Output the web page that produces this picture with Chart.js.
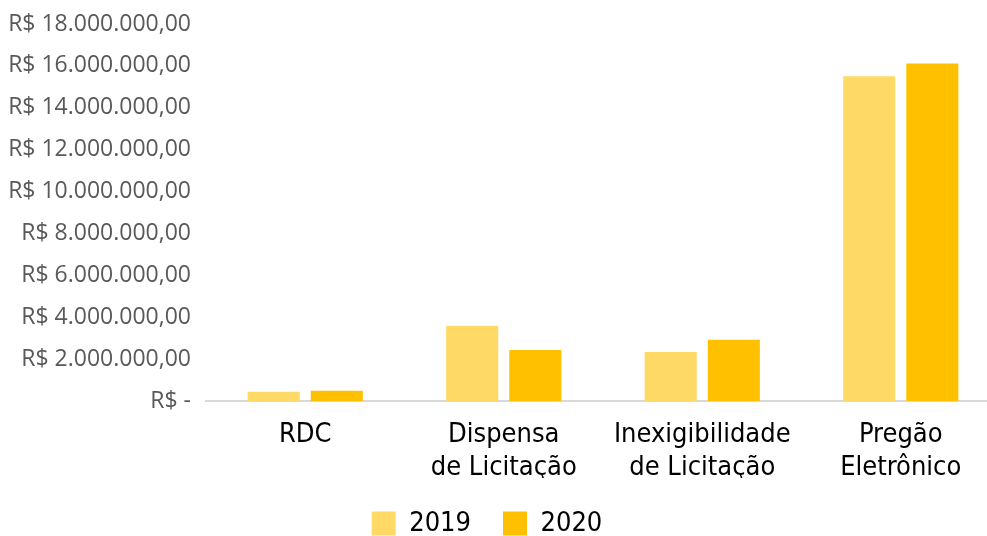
<!DOCTYPE html>
<html lang="pt-BR">
<head>
    <meta charset="UTF-8">
    <title>Contratações por modalidade</title>
    <script src="https://cdn.jsdelivr.net/npm/chart.js"></script>
    <style>
        html, body { margin: 0; padding: 0; overflow: hidden; background: #fff; }
        #wrap { width: 1026px; height: 547px; margin-left: -26px; }
    </style>
</head>
<body>

<div id="wrap"><canvas id="modalidadesChart"></canvas></div>

<script>
    const categorias = [['RDC'], ['Dispensa', 'de Licitação'], ['Inexigibilidade', 'de Licitação'], ['Pregão', 'Eletrônico']];
    const valores2019 = [445000, 3590000, 2340000, 15500000];
    const valores2020 = [490000, 2440000, 2920000, 16120000];

    function formatoReal(v) {
        if (v === 0) return 'R$ -';
        const inteiro = Math.round(v).toString().replace(/\B(?=(\d{3})+(?!\d))/g, '.');
        return 'R$ ' + inteiro + ',00';
    }

    const ctx = document.getElementById('modalidadesChart').getContext('2d');
    new Chart(ctx, {
        type: 'bar',
        data: {
            labels: categorias,
            datasets: [
                {
                    label: '2019',
                    data: valores2019,
                    backgroundColor: '#FFD966',
                    barPercentage: 0.825,
                    categoryPercentage: 0.636
                },
                {
                    label: '2020',
                    data: valores2020,
                    backgroundColor: '#FFC000',
                    barPercentage: 0.825,
                    categoryPercentage: 0.636
                }
            ]
        },
        options: {
            responsive: true,
            maintainAspectRatio: false,
            animation: false,
            layout: { padding: { top: 24, left: 0, right: 0, bottom: 0 } },
            plugins: {
                tooltip: { enabled: false },
                legend: {
                    position: 'bottom',
                    labels: {
                        boxWidth: 24,
                        boxHeight: 24,
                        padding: 32,
                        color: '#000',
                        font: { family: 'DejaVu Sans Condensed', size: 27 }
                    }
                }
            },
            scales: {
                x: {
                    grid: { display: false },
                    border: { color: '#D9D9D9', width: 2 },
                    afterFit: scale => { scale.height = 77; },
                    ticks: {
                        color: '#000',
                        padding: 10,
                        font: { family: 'DejaVu Sans Condensed', size: 27, lineHeight: 1.22 }
                    }
                },
                y: {
                    min: 0,
                    max: 18000000,
                    grid: { display: false },
                    border: { display: false },
                    afterFit: scale => { scale.width = 232; },
                    ticks: {
                        stepSize: 2000000,
                        color: '#595959',
                        padding: 7,
                        font: { family: 'Open Sans', size: 23 },
                        callback: v => formatoReal(v)
                    }
                }
            }
        }
    });
</script>

</body>
</html>
